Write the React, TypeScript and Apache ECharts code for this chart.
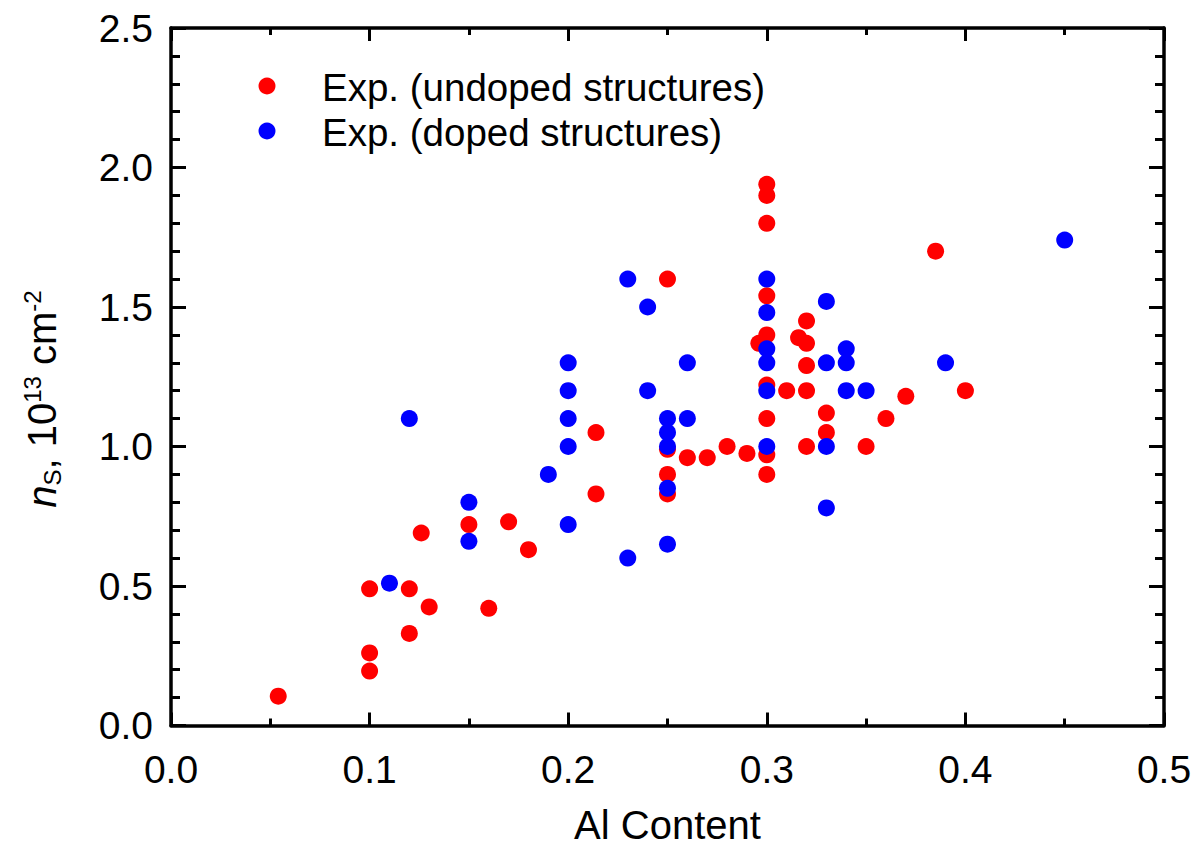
import { useEffect, useRef } from "react";
import * as echarts from "echarts";

// Al content (x) and sheet density n_S in 1e13 cm^-2 (y)
const undopedAl = [
  0.054, 0.1, 0.1, 0.1, 0.12, 0.12, 0.126, 0.13, 0.15, 0.16, 0.17, 0.18, 0.214, 0.214,
  0.25, 0.25, 0.25, 0.25, 0.26, 0.27, 0.28, 0.29, 0.296, 0.3, 0.3, 0.3, 0.3, 0.3, 0.3,
  0.3, 0.3, 0.3, 0.31, 0.316, 0.32, 0.32, 0.32, 0.32, 0.32, 0.33, 0.33, 0.35, 0.36,
  0.37, 0.385, 0.4,
];
const undopedNs = [
  0.105, 0.49, 0.26, 0.195, 0.49, 0.33, 0.69, 0.425, 0.72, 0.42, 0.73, 0.63, 1.05, 0.83,
  1.6, 0.99, 0.9, 0.83, 0.96, 0.96, 1.0, 0.975, 1.37, 1.94, 1.9, 1.8, 1.54, 1.4, 1.22,
  1.1, 0.97, 0.9, 1.2, 1.39, 1.45, 1.37, 1.29, 1.2, 1.0, 1.12, 1.05, 1.0, 1.1,
  1.18, 1.7, 1.2,
];
const dopedAl = [
  0.11, 0.12, 0.15, 0.15, 0.19, 0.2, 0.2, 0.2, 0.2, 0.2, 0.23, 0.23, 0.24, 0.24,
  0.25, 0.25, 0.25, 0.25, 0.25, 0.26, 0.26, 0.3, 0.3, 0.3, 0.3, 0.3, 0.3,
  0.33, 0.33, 0.33, 0.33, 0.34, 0.34, 0.34, 0.35, 0.39, 0.45,
];
const dopedNs = [
  0.51, 1.1, 0.8, 0.66, 0.9, 1.3, 1.2, 1.1, 1.0, 0.72, 1.6, 0.6, 1.5, 1.2,
  1.1, 1.05, 1.0, 0.85, 0.65, 1.3, 1.1, 1.6, 1.48, 1.35, 1.3, 1.2, 1.0,
  1.52, 1.3, 1.0, 0.78, 1.35, 1.3, 1.2, 1.2, 1.3, 1.74,
];

const seriesNames = ["Exp. (undoped structures)", "Exp. (doped structures)"];
const seriesColors = ["#ff0000", "#0000ff"];

const FONT = "'Liberation Sans', Arial, Helvetica, sans-serif";

const pairs = (xs: number[], ys: number[]) => xs.map((x, i) => [x, ys[i]]);

export default function App() {
  const ref = useRef<HTMLDivElement>(null);

  useEffect(() => {
    document.body.style.margin = "0";
    if (!ref.current) return;
    const chart = echarts.init(ref.current, undefined, { renderer: "svg" });

    const axisLine = { show: true, onZero: false, lineStyle: { color: "#000", width: 3.5 } };

    const xCommon = {
      type: "value" as const,
      min: 0,
      max: 0.5,
      interval: 0.1,
      axisLine,
      splitLine: { show: false },
      minorSplitLine: { show: false },
      minorTick: { show: true, splitNumber: 2, length: 7, lineStyle: { color: "#000", width: 3 } },
      axisTick: { show: true, inside: true, length: 13, lineStyle: { color: "#000", width: 3 } },
    };
    const yCommon = {
      type: "value" as const,
      min: 0,
      max: 2.5,
      interval: 0.5,
      axisLine,
      splitLine: { show: false },
      minorSplitLine: { show: false },
      minorTick: { show: true, splitNumber: 5, length: 9, lineStyle: { color: "#000", width: 3 } },
      axisTick: { show: true, inside: true, length: 15, lineStyle: { color: "#000", width: 3 } },
    };

    const scatterStyle = (color: string) => ({ color, opacity: 1 });

    chart.setOption({
      animation: false,
      backgroundColor: "#fff",
      grid: {
        left: 171,
        right: 33,
        top: 28,
        bottom: 122.5,
        containLabel: false,
        outerBoundsMode: "none",
      },
      xAxis: [
        {
          ...xCommon,
          position: "bottom",
          name: "Al Content",
          nameLocation: "middle",
          nameGap: 79,
          nameTextStyle: { fontFamily: FONT, fontSize: 40, lineHeight: 40, color: "#000" },
          axisLabel: {
            show: true,
            margin: 24,
            fontFamily: FONT,
            fontSize: 39,
            color: "#000",
            showMinLabel: true,
            showMaxLabel: true,
            formatter: (v: number) => v.toFixed(1),
          },
        },
        { ...xCommon, position: "top", axisLabel: { show: false } },
      ],
      yAxis: [
        {
          ...yCommon,
          position: "left",
          axisLabel: {
            show: true,
            margin: 18,
            fontFamily: FONT,
            fontSize: 39,
            color: "#000",
            showMinLabel: true,
            showMaxLabel: true,
            formatter: (v: number) => v.toFixed(1),
          },
        },
        { ...yCommon, position: "right", axisLabel: { show: false } },
      ],
      series: [
        {
          name: seriesNames[0],
          type: "scatter",
          xAxisIndex: 0,
          yAxisIndex: 0,
          symbol: "circle",
          symbolSize: 17,
          itemStyle: scatterStyle(seriesColors[0]),
          data: pairs(undopedAl, undopedNs),
        },
        {
          name: seriesNames[1],
          type: "scatter",
          xAxisIndex: 0,
          yAxisIndex: 0,
          symbol: "circle",
          symbolSize: 17,
          itemStyle: scatterStyle(seriesColors[1]),
          data: pairs(dopedAl, dopedNs),
        },
      ],
      graphic: [
        // legend
        ...seriesNames.flatMap((name, i) => [
          {
            type: "circle",
            shape: { cx: 267, cy: 86 + i * 45, r: 8.5 },
            style: { fill: seriesColors[i] },
          },
          {
            type: "text",
            x: 322,
            y: 87 + i * 45,
            style: {
              text: name,
              fontFamily: FONT,
              fontSize: 38.5,
              fill: "#000",
              verticalAlign: "middle",
              align: "left",
            },
          },
        ]),
        // y-axis title with sub/superscripts
        {
          type: "text",
          x: 42,
          y: 399,
          rotation: Math.PI / 2,
          style: {
            text: "{n|n}{sub|S}{t|, 10}{sup|13}{t| cm}{sup|-2}",
            align: "center",
            verticalAlign: "middle",
            fill: "#000",
            rich: {
              n: { fontFamily: FONT, fontSize: 40, fontStyle: "italic", lineHeight: 44, fill: "#000" },
              t: { fontFamily: FONT, fontSize: 40, lineHeight: 44, fill: "#000" },
              sup: { fontFamily: FONT, fontSize: 24, lineHeight: 22, verticalAlign: "top", fill: "#000" },
              sub: { fontFamily: FONT, fontSize: 24, lineHeight: 16, verticalAlign: "bottom", fill: "#000" },
            },
          },
        },
      ],
    });

    return () => chart.dispose();
  }, []);

  return <div ref={ref} style={{ width: 1197, height: 848 }} />;
}
